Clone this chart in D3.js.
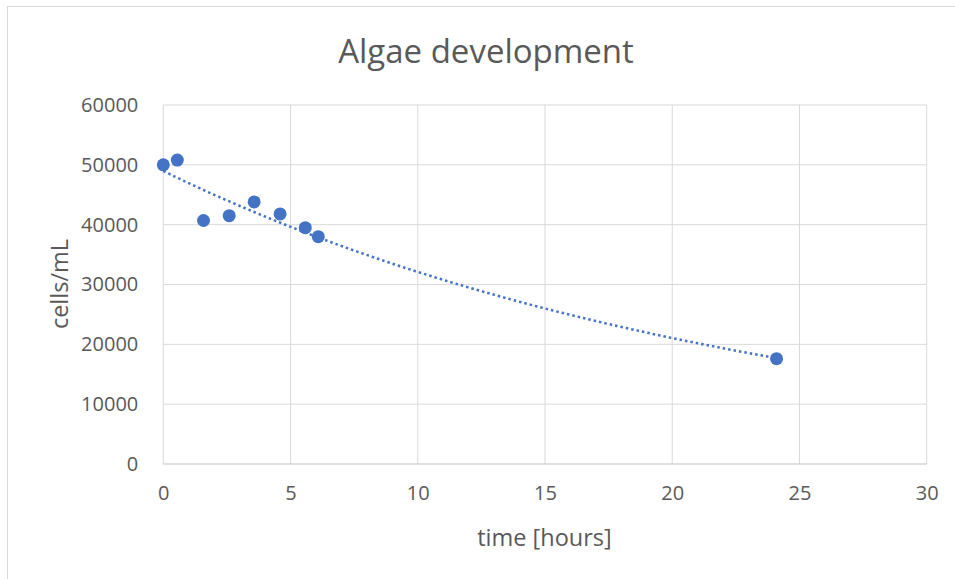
<!DOCTYPE html>
<html><head><meta charset="utf-8">
<script src="https://cdn.jsdelivr.net/npm/d3@7"></script>
<style>html,body{margin:0;padding:0;background:#fff;}svg{display:block;}</style>
</head><body>
<svg id="c" width="955" height="579"></svg>
<script>
const title = "Algae development";
const xTitle = "time [hours]";
const yTitle = "cells/mL";
const timeHours = [0, 0.55, 1.58, 2.59, 3.57, 4.59, 5.58, 6.09, 24.1];
const cellsPerML = [50000, 50800, 40700, 41500, 43800, 41800, 39500, 38000, 17600];
const xTicks = [0, 5, 10, 15, 20, 25, 30];
const yTicks = [0, 10000, 20000, 30000, 40000, 50000, 60000];

const svg = d3.select("#c");
const font = "'Open Sans', 'Noto Sans', sans-serif";
const textCol = "#595959";
const gridCol = "#d9d9d9";
const blue = "#4472C4";

// chart frame
svg.append("rect").attr("x", 7.5).attr("y", 6.5).attr("width", 1000).attr("height", 1000)
  .attr("fill", "#fff").attr("stroke", "#d9d9d9").attr("stroke-width", 1);

const L = 163.3, R = 926.7, T = 105, B = 464;
const x = d3.scaleLinear().domain([0, 30]).range([L, R]);
const y = d3.scaleLinear().domain([0, 60000]).range([B, T]);

// gridlines
svg.append("g").selectAll("line.h").data(yTicks.filter(d => d > 0)).join("line")
  .attr("x1", L).attr("x2", R).attr("y1", d => y(d)).attr("y2", d => y(d))
  .attr("stroke", gridCol).attr("stroke-width", 1);
svg.append("g").selectAll("line.v").data(xTicks).join("line")
  .attr("x1", d => x(d)).attr("x2", d => x(d)).attr("y1", T).attr("y2", B)
  .attr("stroke", gridCol).attr("stroke-width", 1);
// bottom axis line
svg.append("line").attr("x1", L).attr("x2", R).attr("y1", B).attr("y2", B)
  .attr("stroke", "#bfbfbf").attr("stroke-width", 1.2);

// axes labels via d3 axes
const xAxis = svg.append("g").attr("transform", `translate(0,${B})`)
  .call(d3.axisBottom(x).tickValues(xTicks).tickSize(0).tickPadding(22).tickFormat(d3.format("d")));
xAxis.select(".domain").remove();
xAxis.selectAll("text").attr("font-family", font).attr("font-size", 20).attr("fill", textCol);

const yAxis = svg.append("g").attr("transform", `translate(${L},0)`)
  .call(d3.axisLeft(y).tickValues(yTicks).tickSize(0).tickPadding(25).tickFormat(d3.format("d")));
yAxis.select(".domain").remove();
yAxis.selectAll("text").attr("font-family", font).attr("font-size", 20).attr("fill", textCol);

// exponential trendline (least squares on ln y)
const n = timeHours.length;
const lny = cellsPerML.map(Math.log);
const mx = d3.mean(timeHours), my = d3.mean(lny);
let sxy = 0, sxx = 0;
for (let i = 0; i < n; i++) { sxy += (timeHours[i]-mx)*(lny[i]-my); sxx += (timeHours[i]-mx)**2; }
const b = sxy / sxx, a = Math.exp(my - b*mx);
const xs = d3.range(0, 201).map(i => d3.min(timeHours) + (d3.max(timeHours)-d3.min(timeHours))*i/200);
svg.append("path").datum(xs)
  .attr("d", d3.line().x(d => x(d)).y(d => y(a*Math.exp(b*d))))
  .attr("fill", "none").attr("stroke", blue).attr("stroke-width", 2.5)
  .attr("stroke-dasharray", "2.5,3");

// markers
svg.append("g").selectAll("circle").data(timeHours).join("circle")
  .attr("cx", d => x(d)).attr("cy", (d, i) => y(cellsPerML[i])).attr("r", 6.5)
  .attr("fill", blue);

// titles
svg.append("text").attr("x", 486).attr("y", 63).attr("text-anchor", "middle")
  .attr("font-family", font).attr("font-size", 33).attr("fill", textCol).text(title);
svg.append("text").attr("x", 544.5).attr("y", 546).attr("text-anchor", "middle")
  .attr("font-family", font).attr("font-size", 23.5).attr("fill", textCol).text(xTitle);
svg.append("text").attr("transform", "translate(68,284) rotate(-90)").attr("text-anchor", "middle")
  .attr("font-family", font).attr("font-size", 23.5).attr("fill", textCol).text(yTitle);
</script>
</body></html>
